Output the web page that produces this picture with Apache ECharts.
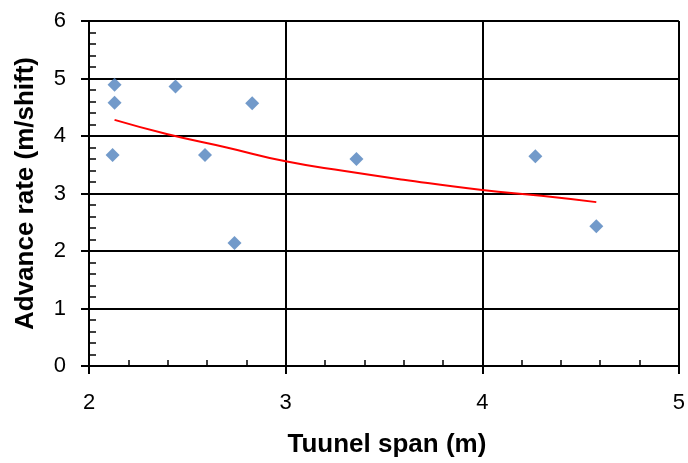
<!DOCTYPE html>
<html><head><meta charset="utf-8">
<script src="https://cdn.jsdelivr.net/npm/echarts@6/dist/echarts.min.js"></script>
<style>html,body{margin:0;padding:0;background:#fff}#c{width:688px;height:463px}</style>
</head><body><div id="c"></div>
<script>
const spanValues = [2.13, 2.13, 2.12, 2.44, 2.59, 2.74, 2.83, 3.36, 4.27, 4.58];
const rateValues = [4.89, 4.58, 3.67, 4.86, 3.67, 2.14, 4.57, 3.60, 3.65, 2.43];
const trendX = [2.13, 2.4, 2.7, 3.0, 3.3, 3.6, 4.0, 4.3, 4.58];
const trendY = [4.28, 4.03, 3.80, 3.56, 3.39, 3.24, 3.06, 2.96, 2.85];
const xTitle = 'Tuunel span (m)';
const yTitle = 'Advance rate (m/shift)';

const font = 'Liberation Sans, Arial, sans-serif';
const black = '#000';
const chart = echarts.init(document.getElementById('c'), null, {renderer: 'canvas'});
chart.setOption({
  animation: false,
  grid: {left: 89, right: 5, top: 21, bottom: 96},
  xAxis: [{
    type: 'value', min: 2, max: 5, interval: 1, position: 'bottom',
    name: xTitle, nameLocation: 'middle', nameGap: 66,
    nameTextStyle: {fontFamily: font, fontSize: 26, fontWeight: 'bold', color: black, padding: [0, 0, 0, 6]},
    axisLine: {show: true, onZero: false, lineStyle: {color: black, width: 2}},
    axisTick: {show: true, inside: false, length: 8, lineStyle: {color: black, width: 2}},
    axisLabel: {fontFamily: font, fontSize: 22, color: black, margin: 26},
    splitLine: {show: true, lineStyle: {color: black, width: 2}}
  }, {
    type: 'value', min: 2, max: 5, interval: 0.2, position: 'bottom',
    axisLine: {show: false, onZero: false},
    axisTick: {show: true, inside: true, length: 6, lineStyle: {color: black, width: 1.5}},
    axisLabel: {show: false},
    splitLine: {show: false}
  }],
  yAxis: [{
    type: 'value', min: 0, max: 6, interval: 1, position: 'left',
    name: yTitle, nameLocation: 'middle', nameGap: 50, nameRotate: 90,
    nameTextStyle: {fontFamily: font, fontSize: 26, fontWeight: 'bold', color: black},
    axisLine: {show: true, onZero: false, lineStyle: {color: black, width: 2}},
    axisTick: {show: true, inside: false, length: 8, lineStyle: {color: black, width: 2}},
    axisLabel: {fontFamily: font, fontSize: 22, color: black, margin: 23},
    splitLine: {show: true, lineStyle: {color: black, width: 2}}
  }, {
    type: 'value', min: 0, max: 6, interval: 0.2, position: 'left',
    axisLine: {show: false, onZero: false},
    axisTick: {show: true, inside: true, length: 7, lineStyle: {color: black, width: 1.5}},
    axisLabel: {show: false},
    splitLine: {show: false}
  }],
  series: [{
    type: 'scatter', xAxisIndex: 0, yAxisIndex: 0,
    symbol: 'diamond', symbolSize: 14,
    itemStyle: {color: '#4F81BD'},
    data: spanValues.map((x, i) => [x, rateValues[i]]),
    z: 3
  }, {
    type: 'line', xAxisIndex: 0, yAxisIndex: 0,
    smooth: true, showSymbol: false, symbol: 'none',
    lineStyle: {color: '#FF0000', width: 2},
    data: trendX.map((x, i) => [x, trendY[i]]),
    z: 4
  }]
});
</script></body></html>
